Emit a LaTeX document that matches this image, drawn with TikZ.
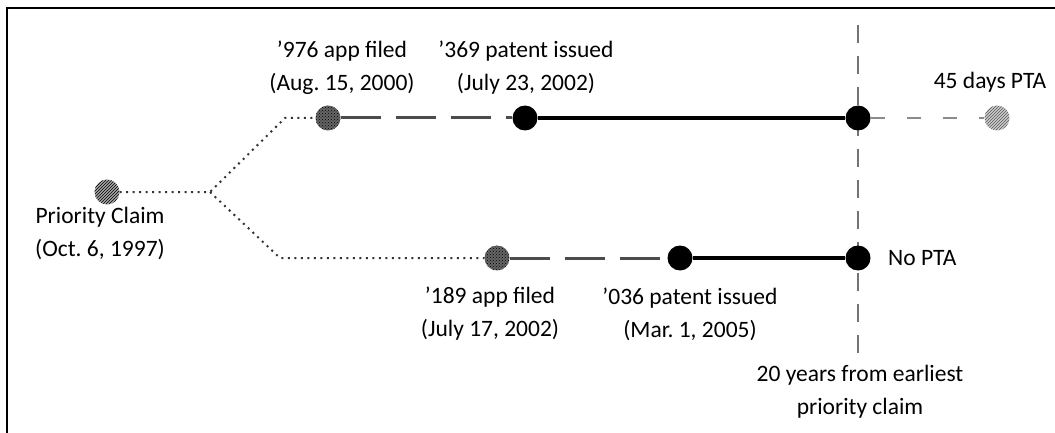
\documentclass[tikz,border=0pt]{standalone}
\usepackage{fontspec}
\setmainfont{Carlito}
\usetikzlibrary{patterns}
\frenchspacing

\tikzset{
  dotline/.style={draw=black!80,line width=2pt,dash pattern=on 2pt off 4.5pt},
  appline/.style={draw=black!70,line width=3pt,dash pattern=on 40pt off 15pt},
  termline/.style={draw=black,line width=4pt},
  ptaline/.style={draw=black!45,line width=2.5pt,dash pattern=on 14pt off 22pt},
  limitline/.style={draw=black!55,line width=2pt,dash pattern=on 18pt off 13pt},
  lbl/.style={align=center,font=\fontsize{23.5}{33}\selectfont,inner sep=0pt}
}

\begin{document}
\begin{tikzpicture}[x=1pt,y=-1pt]
\useasboundingbox (0,0) rectangle (1055,433);
\draw[line width=2pt] (7,433) -- (7,8) -- (1055,8);

% 20-year limit
\coordinate (vtop) at (858,25);
\coordinate (vbot) at (858,355);
\path[limitline] (vtop) -- (vbot);

\begin{scope}[every node/.style={circle,minimum size=25pt,inner sep=0pt}]
    \node[preaction={fill=black!35},pattern=north east lines] (prio) at (107,192) {};
    \node[preaction={fill=black!60},pattern=crosshatch dots] (app976) at (328,118) {};
    \node[fill=black] (pat369) at (525,118) {};
    \node[fill=black] (end369) at (858,118) {};
    \node[preaction={fill=black!20},pattern=north east lines,pattern color=black!65] (pta) at (997,118) {};
    \node[preaction={fill=black!60},pattern=crosshatch dots] (app189) at (497,258) {};
    \node[fill=black] (pat036) at (680,258) {};
    \node[fill=black] (end036) at (858,258) {};
\end{scope}

\coordinate (fork) at (210,192);
\coordinate (upbend) at (285,118);
\coordinate (lobend) at (280,258);

\path[dotline] (prio) -- (fork) -- (upbend) -- (app976);
\path[dotline] (fork) -- (lobend) -- (app189);
\path[appline] (app976) -- (pat369);
\path[appline] (app189) -- (pat036);
\path[termline] (pat369) -- (end369);
\path[termline] (pat036) -- (end036);
\path[ptaline] (end369) -- (pta);

\begin{scope}[every node/.style={lbl}]
    \node at (100,233) {Priority Claim\\(Oct. 6, 1997)};
    \node at (342,68) {’976 app filed\\(Aug. 15, 2000)};
    \node at (526,68) {’369 patent issued\\(July 23, 2002)};
    \node at (990,82) {45 days PTA};
    \node at (490,314) {’189 app filed\\(July 17, 2002)};
    \node at (690,314) {’036 patent issued\\(Mar. 1, 2005)};
    \node[anchor=west] at (888,258) {No PTA};
    \node at (860,392) {20 years from earliest\\priority claim};
\end{scope}
\end{tikzpicture}
\end{document}
